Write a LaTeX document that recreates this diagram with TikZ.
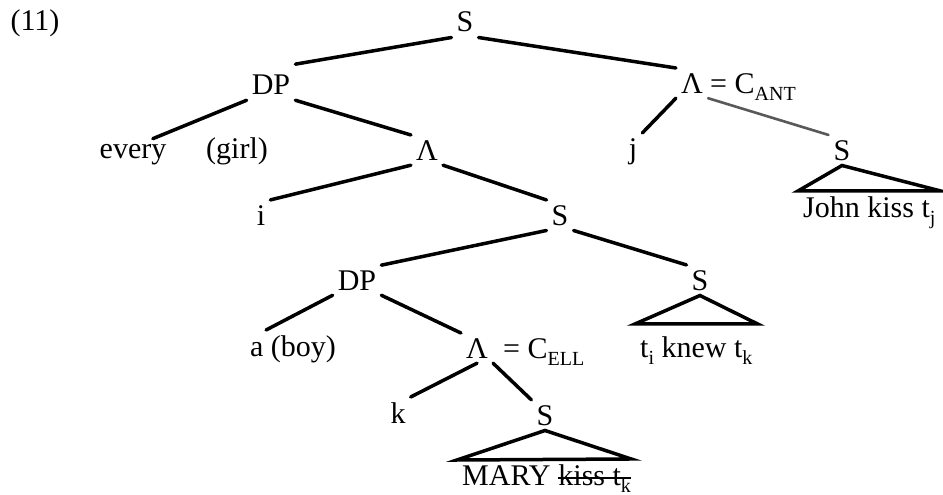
\documentclass[tikz,border=0pt]{standalone}
\usepackage{fontspec}
\setmainfont{Liberation Serif}
\usepackage{tikz}
\newcommand{\idx}[1]{\raisebox{-7pt}{\fontsize{20}{20}\selectfont #1}}

\begin{document}
\begin{tikzpicture}[x=1pt, y=-1pt,
	every node/.style={font=\fontsize{30}{36}\selectfont, anchor=base, inner sep=5pt},
	branch/.style={line width=3.5pt, line cap=round},
	faint/.style={line width=2.6pt, black!65},
	yield/.style={anchor=base west, inner ysep=5pt}]
	\useasboundingbox (0,0) rectangle (943,495);
	\node (ex) at (35,31) {(11)};
	\node (S0) at (465,32) {S};
	\node (DP1) at (271,95) {DP};
	\node (LANT) at (692,93) {Λ};
	\node[anchor=base west] (cant) at (705,93) {= C\idx{ANT}};
	\node (every) at (133,158) {every};
	\node (girl) at (237,158) {(girl)};
	\node (L1) at (427,160) {Λ};
	\node (j) at (633,158) {j};
	\node (S4) at (842,160) {S};
	\node[yield] (john) at (798,217) {John kiss t\idx{j}};
	\node (i) at (261,225) {i};
	\node (S1) at (560,225) {S};
	\node (DP2) at (357,290) {DP};
	\node (S2) at (700,290) {S};
	\node (aboy) at (293,356) {a (boy)};
	\node (L2) at (477,358) {Λ};
	\node[anchor=base west] (cell) at (498,358) {= C\idx{ELL}};
	\node[yield, inner ysep=12pt] (tknew) at (635,357) {t\idx{i} knew t\idx{k}};
	\node (k) at (398,423) {k};
	\node (S3) at (545,425) {S};
	\node[yield] (mary) at (457,485) {MARY};
	\node[yield, inner xsep=0pt] (struck) at ([xshift=2.5pt]mary.base east) {kiss t\idx{k}};

	\draw[branch] (S0.south west) -- ([yshift=6pt]DP1.north east);
	\draw[branch] (S0.south east) -- (LANT.north west);
	\draw[branch] (DP1.south west) -- (every.38);
	\draw[branch] (DP1.south east) -- (L1.north west);
	\draw[branch] (L1.south west) -- (i.north east);
	\draw[branch] (L1.south east) -- (S1.north west);
	\draw[branch] (LANT.south west) -- (j.north east);
	\draw[branch, faint] (LANT.south east) -- (S4.north west);
	\draw[branch] (S1.south west) -- (DP2.north east);
	\draw[branch] (S1.south east) -- (S2.north west);
	\draw[branch] (DP2.south west) -- (aboy.145);
	\draw[branch] (DP2.south east) -- (L2.north west);
	\draw[branch] (L2.south) -- (k.north east);
	\draw[branch] (L2.south east) -- (S3.north west);
	\draw[branch] (S4.south) -- (john.north west) -- (john.north east) -- cycle;
	\draw[branch] (S2.south) -- (tknew.north west) -- (tknew.north east) -- cycle;
	\draw[branch] (S3.south) -- (mary.north west) -- (struck.north east) -- cycle;
	\draw[line width=2.4pt] ([yshift=7pt]struck.base west) -- ([yshift=7pt]struck.base east);
\end{tikzpicture}
\end{document}
